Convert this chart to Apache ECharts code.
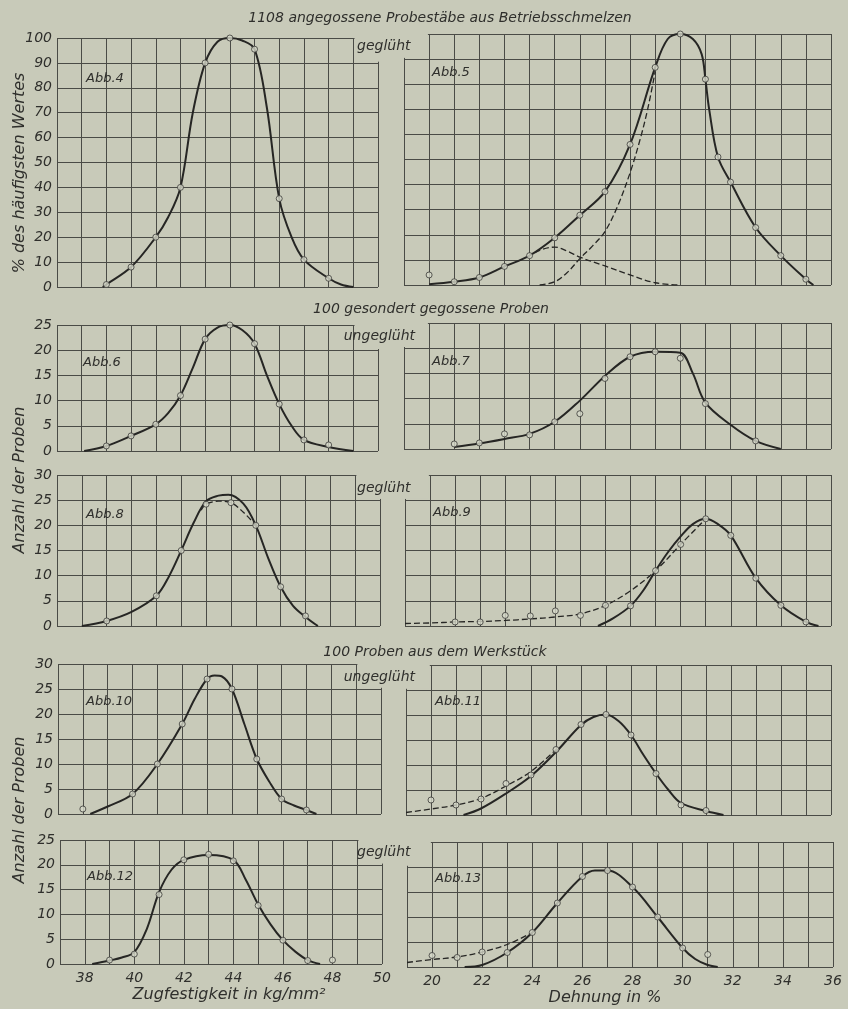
<!DOCTYPE html>
<html>
<head>
<meta charset="utf-8">
<script src="https://cdn.jsdelivr.net/npm/echarts@6/dist/echarts.min.js"></script>
<style>
  html, body { margin: 0; padding: 0; background: #c8cab9; }
  #chart { width: 848px; height: 1009px; }
</style>
</head>
<body>
<div id="chart"></div>
<script>
// tick labels on the bottom axes
const zugTicks = [38, 40, 42, 44, 46, 48, 50]
const dehnTicks = [20, 22, 24, 26, 28, 30, 32, 34, 36]

// Abb.4 – Zugfestigkeit, angegossen, geglüht (% des häufigsten Wertes)
const abb4Points = [[39, 1], [40, 8], [41, 20], [42, 40], [43, 90], [44, 100], [45, 95.5], [46, 35.5], [47, 11], [48, 3.5]]
const abb4Curve = [[38.85, 0], [39, 1], [40, 8], [41, 20], [41.5, 28], [42, 40], [42.5, 70], [43, 90], [43.5, 98.5], [44, 100],
  [44.5, 99], [45, 95.5], [45.5, 72], [46, 35.5], [46.5, 20], [47, 11], [48, 3.5], [48.5, 1], [49, 0]]

// Abb.5 – Dehnung, angegossen, geglüht
const abb5Points = [[20, 4], [21, 1.3], [22, 3], [23, 7.4], [24, 11.7], [25, 18.8], [26, 27.8], [27, 37.2], [28, 56],
  [29, 86.7], [30, 100], [31, 82], [31.5, 51], [32, 41], [33, 22.9], [34, 11.7], [35, 2.3]]
const abb5Curve = [[20, 0.3], [21, 1.3], [22, 3], [23, 7.4], [24, 11.7], [25, 18.8], [26, 27.8], [27, 37.2], [28, 56],
  [29, 86.7], [29.5, 98], [30, 100], [30.5, 98], [30.85, 92], [31, 82], [31.15, 70], [31.5, 51], [32, 41],
  [33, 22.9], [34, 11.7], [35, 2.3], [35.3, 0]]
const abb5Hump = [[23.9, 11], [24.4, 13.8], [25, 15.1], [25.5, 13.5], [26, 11.1], [27, 7.6], [28, 4], [29, 0.9], [30, 0]]
const abb5Main = [[24.4, 0], [25, 1.3], [25.5, 5], [26, 10.5], [26.5, 15.5], [27, 21.3], [27.5, 31.3], [28, 44.7],
  [28.4, 58], [28.7, 70], [29, 85]]

// Abb.6 – Zugfestigkeit, gesondert gegossen, ungeglüht
const abb6Points = [[39, 1], [40, 3], [41, 5.3], [42, 11], [43, 22.2], [44, 25], [45, 21.3], [46, 9.3], [47, 2.2], [48, 1.2]]
const abb6Curve = [[38.1, 0], [39, 1], [40, 3], [41, 5.3], [41.5, 7.5], [42, 11], [42.5, 16.5], [43, 22.2], [43.5, 24.5], [44, 25],
  [44.5, 24], [45, 21.3], [45.5, 15], [46, 9.3], [46.5, 5], [47, 2.2], [48, 0.8], [49, 0]]

// Abb.7 – Dehnung, gesondert gegossen, ungeglüht
const abb7Points = [[21, 1], [22, 1.2], [23, 3], [24, 2.8], [25, 5.4], [26, 7], [27, 14], [28, 18.3], [29, 19.3],
  [30, 18], [31, 9], [33, 1.6]]
const abb7Curve = [[21, 0.4], [22, 1.1], [23, 2], [24, 3], [25, 5.4], [26, 9.6], [27, 14.5], [28, 18.3], [29, 19.3],
  [30, 19.1], [30.5, 15], [31, 9.2], [32, 4.8], [33, 1.6], [34, 0]]

// Abb.8 – Zugfestigkeit, gesondert gegossen, geglüht
const abb8Points = [[39, 1], [41, 6], [42, 15], [43, 24.2], [44, 24.5], [45, 20], [46, 7.8], [47, 2]]
const abb8Curve = [[38, 0], [39, 1], [40, 2.8], [41, 6], [41.5, 9.8], [42, 15], [42.5, 20.5], [43, 24.8], [43.5, 25.9], [43.9, 26.1],
  [44.5, 24.3], [45, 20], [45.5, 13.5], [46, 7.8], [46.5, 4], [47, 1.8], [47.5, 0]]
const abb8Dashed = [[42.8, 23], [43, 24.2], [43.5, 24.8], [44, 24.5], [44.5, 22.6], [45, 20]]

// Abb.9 – Dehnung, gesondert gegossen, geglüht
const abb9Points = [[21, 0.8], [22, 0.8], [23, 2.1], [24, 2], [25, 3], [26, 2.1], [27, 4.1], [28, 4], [29, 11],
  [30, 16.2], [31, 21.3], [32, 18], [33, 9.5], [34, 4.1], [35, 0.8]]
const abb9Curve = [[26.7, 0], [27.3, 1.5], [28, 4], [28.5, 7], [29, 11], [29.5, 14.7], [30, 17.8], [30.5, 20.3],
  [31, 21.3], [31.5, 20.2], [32, 18], [33, 9.5], [34, 4.1], [35, 0.8], [35.5, 0]]
const abb9Dashed = [[19, 0.5], [20, 0.6], [21, 0.8], [22, 0.9], [23, 1.1], [24, 1.4], [25, 1.8], [26, 2.4], [27, 4.1],
  [28, 7], [29, 11], [30, 16.2], [31, 21.3]]

// Abb.10 – Zugfestigkeit, Werkstück, ungeglüht
const abb10Points = [[38, 1], [40, 4], [41, 10], [42, 18], [43, 27], [44, 25], [45, 11], [46, 3], [47, 0.8]]
const abb10Curve = [[38.3, 0], [39, 1.5], [40, 4], [41, 10], [42, 18], [42.5, 23], [43, 27], [43.3, 27.7], [43.6, 27.5],
  [44, 25], [44.5, 18], [45, 11], [45.5, 6.5], [46, 3], [46.5, 1.7], [47, 0.8], [47.4, 0]]

// Abb.11 – Dehnung, Werkstück, ungeglüht
const abb11Points = [[20, 3], [21, 2], [22, 3.2], [23, 6.3], [24, 8], [25, 13.1], [26, 18.1], [27, 20.1], [28, 16],
  [29, 8.3], [30, 2], [31, 0.9]]
const abb11Curve = [[21.3, 0], [22, 1.3], [23, 4.3], [24, 7.8], [25, 12.6], [26, 18], [26.5, 19.6], [27, 20.1],
  [27.5, 18.8], [28, 16], [28.5, 12], [29, 8.3], [29.5, 5], [30, 2.4], [31, 0.8], [31.7, 0]]
const abb11Dashed = [[19, 0.5], [20, 1.2], [21, 2], [22, 3.3], [23, 5.8], [24, 8.7], [25, 13.1]]

// Abb.12 – Zugfestigkeit, Werkstück, geglüht
const abb12Points = [[39, 0.8], [40, 2], [41, 14], [42, 21], [43, 22.1], [44, 20.8], [45, 11.8], [46, 4.8], [47, 0.7], [48, 0.8]]
const abb12Curve = [[38.3, 0], [39, 0.7], [39.5, 1.3], [40, 2.4], [40.5, 7], [41, 14.5], [41.5, 19], [42, 21], [43, 22], [44, 21],
  [44.5, 17], [45, 12], [45.5, 8], [46, 4.8], [46.5, 2.5], [47, 0.8], [47.5, 0]]

// Abb.13 – Dehnung, Werkstück, geglüht
const abb13Points = [[20, 2.3], [21, 1.9], [22, 3], [23, 2.9], [24, 6.9], [25, 12.8], [26, 18.1], [27, 19.3], [28, 16],
  [29, 10], [30, 3.8], [31, 2.5]]
const abb13Curve = [[21.3, 0], [22, 0.4], [23, 2.9], [24, 6.9], [25, 12.8], [26, 18.1], [26.5, 19.3], [27, 19.3],
  [28, 16], [29, 10], [30, 3.8], [30.5, 1.6], [31, 0.4], [31.4, 0]]
const abb13Dashed = [[19, 0.9], [20, 1.5], [21, 2], [22, 3], [23, 4.5], [24, 6.9]]

const bg = '#c8cab9'
const ink = '#262624'
const gridInk = '#4a4b46'
const textInk = '#2f2f2c'
const font = 'DejaVu Sans'

// layout: box = [left, top, right, bottom] in px
const panels = [
  { tag: 'Abb.4', side: 'L', box: [57, 38, 378, 287], yMax: 100, yStep: 10, curve: abb4Curve, dashed: [], points: abb4Points, tagPos: [86, 79] },
  { tag: 'Abb.5', side: 'R', box: [404, 34, 831, 285], yMax: 100, yStep: 10, curve: abb5Curve, dashed: [abb5Hump, abb5Main], points: abb5Points, tagPos: [432, 73] },
  { tag: 'Abb.6', side: 'L', box: [57, 325, 378, 451], yMax: 25, yStep: 5, curve: abb6Curve, dashed: [], points: abb6Points, tagPos: [83, 363] },
  { tag: 'Abb.7', side: 'R', box: [404, 323, 831, 449], yMax: 25, yStep: 5, curve: abb7Curve, dashed: [], points: abb7Points, tagPos: [432, 362] },
  { tag: 'Abb.8', side: 'L', box: [57, 475, 380, 626], yMax: 30, yStep: 5, curve: abb8Curve, dashed: [abb8Dashed], points: abb8Points, tagPos: [86, 515] },
  { tag: 'Abb.9', side: 'R', box: [405, 475, 831, 626], yMax: 30, yStep: 5, curve: abb9Curve, dashed: [abb9Dashed], points: abb9Points, tagPos: [433, 513] },
  { tag: 'Abb.10', side: 'L', box: [58, 664, 381, 814], yMax: 30, yStep: 5, curve: abb10Curve, dashed: [], points: abb10Points, tagPos: [86, 702] },
  { tag: 'Abb.11', side: 'R', box: [406, 665, 831, 815], yMax: 30, yStep: 5, curve: abb11Curve, dashed: [abb11Dashed], points: abb11Points, tagPos: [435, 702] },
  { tag: 'Abb.12', side: 'L', box: [60, 840, 382, 964], yMax: 25, yStep: 5, curve: abb12Curve, dashed: [], points: abb12Points, tagPos: [87, 877], bottom: true },
  { tag: 'Abb.13', side: 'R', box: [407, 842, 833, 967], yMax: 25, yStep: 5, curve: abb13Curve, dashed: [abb13Dashed], points: abb13Points, tagPos: [435, 879], bottom: true }
]

const labelStyle = { color: textInk, fontFamily: font, fontStyle: 'italic', fontSize: 14 }

const grid = []
const xAxis = []
const yAxis = []
const series = []

panels.forEach((p, i) => {
  const [l, t, r, b] = p.box
  const left = p.side === 'L'
  grid.push({ left: l, top: t, width: r - l, height: b - t, show: false })
  xAxis.push({
    gridIndex: i,
    type: 'value',
    min: left ? 37 : 19,
    max: left ? 50 : 36,
    interval: 1,
    axisLine: { show: false },
    axisTick: { show: false },
    axisLabel: {
      show: !!p.bottom,
      margin: 7,
      ...labelStyle,
      formatter: v => ((left ? zugTicks : dehnTicks).includes(v) ? String(v) : '')
    },
    splitLine: { show: true, lineStyle: { color: gridInk, width: 1 } }
  })
  yAxis.push({
    gridIndex: i,
    type: 'value',
    min: 0,
    max: p.yMax,
    interval: p.yStep,
    axisLine: { show: false },
    axisTick: { show: false },
    axisLabel: { show: left, margin: 5, ...labelStyle },
    splitLine: { show: true, lineStyle: { color: gridInk, width: 1 } }
  })
  series.push({
    type: 'line',
    xAxisIndex: i,
    yAxisIndex: i,
    data: p.curve,
    smooth: 0.35,
    symbol: 'none',
    lineStyle: { color: ink, width: 2 },
    z: 3
  })
  p.dashed.forEach(d => {
    series.push({
      type: 'line',
      xAxisIndex: i,
      yAxisIndex: i,
      data: d,
      smooth: 0.35,
      symbol: 'none',
      lineStyle: { color: ink, width: 1.3, type: [6, 3] },
      z: 3
    })
  })
  series.push({
    type: 'scatter',
    xAxisIndex: i,
    yAxisIndex: i,
    data: p.points,
    symbol: 'circle',
    symbolSize: 6,
    itemStyle: { color: '#d6d8c9', borderColor: '#3a3a37', borderWidth: 1 },
    z: 4
  })
})

const chart = echarts.init(document.getElementById('chart'))
chart.setOption({
  backgroundColor: bg,
  animation: false,
  grid,
  xAxis,
  yAxis,
  series
})

// texts
function txt(text, x, y, align, size, rot) {
  return {
    type: 'text',
    x,
    y,
    rotation: rot || 0,
    z: 20,
    silent: true,
    style: {
      text,
      textAlign: align,
      textVerticalAlign: 'middle',
      fill: textInk,
      font: `italic ${size}px "${font}"`
    }
  }
}

const graphics = [
  txt('1108 angegossene Probestäbe aus Betriebsschmelzen', 440, 18, 'center', 14),
  txt('geglüht', 357, 46, 'left', 14),
  txt('100 gesondert gegossene Proben', 431, 309, 'center', 14),
  txt('ungeglüht', 415, 336, 'right', 14),
  txt('geglüht', 357, 488, 'left', 14),
  txt('100 Proben aus dem Werkstück', 435, 652, 'center', 14),
  txt('ungeglüht', 415, 677, 'right', 14),
  txt('geglüht', 357, 852, 'left', 14),
  txt('Zugfestigkeit in kg/mm²', 229, 995, 'center', 16),
  txt('Dehnung in %', 605, 998, 'center', 16),
  txt('% des häufigsten Wertes', 20, 173, 'center', 16, Math.PI / 2),
  txt('Anzahl der Proben', 20, 480, 'center', 16, Math.PI / 2),
  txt('Anzahl der Proben', 20, 810, 'center', 16, Math.PI / 2)
]

// cut out the notch cell (top row, next to the "geglüht" label) of each panel
panels.forEach((p, i) => {
  const left = p.side === 'L'
  const cx = left ? [49, 50] : [19, 20]
  const a = chart.convertToPixel({ gridIndex: i }, [cx[0], p.yMax])
  const b = chart.convertToPixel({ gridIndex: i }, [cx[1], p.yMax - p.yStep])
  const x0 = left ? a[0] + 1.2 : a[0] - 3
  const x1 = left ? b[0] + 3 : b[0] - 1.2
  graphics.push({
    type: 'rect',
    z: 10,
    silent: true,
    shape: { x: x0, y: a[1] - 3, width: x1 - x0, height: b[1] - 1.2 - (a[1] - 3) },
    style: { fill: bg }
  })
  graphics.push({
    type: 'text',
    x: p.tagPos[0],
    y: p.tagPos[1],
    z: 20,
    silent: true,
    style: {
      text: p.tag,
      textAlign: 'left',
      textVerticalAlign: 'middle',
      fill: textInk,
      font: `italic 13px "${font}"`
    }
  })
})

chart.setOption({ graphic: graphics })
</script>
</body>
</html>
